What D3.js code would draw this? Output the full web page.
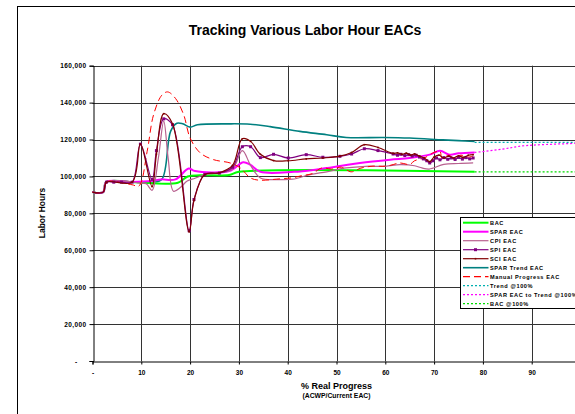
<!DOCTYPE html>
<html><head><meta charset="utf-8">
<script src="https://cdn.jsdelivr.net/npm/d3@7"></script>
<style>html,body{margin:0;padding:0;background:#fff;overflow:hidden}svg{display:block;font-family:"Liberation Sans",Arial,sans-serif}</style>
</head><body>
<svg id="c" width="575" height="414"></svg>
<script>
// ---- data ----
const title = "Tracking Various Labor Hour EACs";
const xTicks = [0,10,20,30,40,50,60,70,80,90,100];
const yTicks = [0,20000,40000,60000,80000,100000,120000,140000,160000];
const startSeg = [[0,91500],[2.2,91500],[2.8,97000],[4.4,97000],[5.9,97000],[8.1,97000]];
const bac = [[0,91500],[2.2,91500],[2.8,97000],[8.1,97000],[10,96600],[17.5,96600],[19.5,100000],[22,100600],[28,100800],[30,102500],[78.3,102500]];
const sparEac = [[0,91500],[2.2,91500],[2.8,97000],[8.1,97000],[12,97500],[14,98400],[17,98400],[19.7,104300],[21,102900],[28,102900],[30.9,107700],[32.3,106400],[34.4,102500],[41.3,102500],[46,103800],[50.7,105600],[54.8,107300],[61,109100],[65,110000],[69.1,111800],[71.2,113900],[73.2,111800],[75,112500],[78.3,113000]];
const cpiEac = [[0,91500],[2.2,91500],[2.8,97000],[8.1,97000],[9.5,96500],[11,96000],[12.2,92500],[13.5,110000],[14.6,130000],[15.5,110000],[16.6,92000],[18,94000],[19.4,97500],[21,99000],[23,101000],[26,102000],[28.7,104000],[30.7,114000],[32.4,106000],[34.4,99200],[38.4,98300],[41,98500],[44.6,101000],[48,102500],[52,104600],[56,105500],[60,105500],[63,106400],[66,105800],[67.5,104600],[69,104000],[72,106500],[75,107000],[78,107300]];
const spiEac = [[0,91500],[2.2,91500],[2.86,96900],[4.36,96900],[5.93,96900],[8.11,96900],[9.82,117500],[12.2,98400],[13.1,114000],[14.6,131200],[16.4,128000],[19.8,70600],[20.8,87500],[23,101100],[26,101800],[28.7,105000],[30.7,116100],[32.4,116100],[34.4,110200],[37.1,112000],[40.1,110000],[43.8,111800],[47.2,110400],[50.7,110900],[53.1,112150],[55.7,115000],[58.5,114000],[61.6,112150],[62.5,111500],[63.2,112000],[64,111300],[64.8,111800],[65.5,111000],[66.3,111500],[67,110500],[67.8,109500],[68.5,108500],[69.1,107300],[69.8,108500],[70.5,110000],[71.2,109000],[72,110200],[72.8,109300],[73.5,110000],[74.3,109200],[75,110300],[75.8,109400],[76.5,110200],[77.3,109500],[78,110000]];
const sciEac = [[0,91500],[2.2,91500],[2.86,96900],[8.11,96900],[9.82,117500],[12.2,94500],[13.1,112000],[14.6,134000],[16.4,128500],[19.8,70000],[20.8,87000],[23,101000],[26,102000],[28.7,106000],[30.7,120400],[32.4,119000],[34.4,112000],[37.1,108600],[40.1,108500],[43.8,109500],[47.2,110000],[50.7,111000],[53.1,113000],[55.7,117200],[58.5,115700],[61.6,112500],[62.5,112800],[63.4,112000],[64.3,112600],[65.2,111600],[66,112200],[67,111000],[68,110000],[69.1,108000],[70,110500],[71,111500],[72,110000],[73,111000],[74,110000],[75,111200],[76,110300],[77,111500],[78,111800]];
const sparTrend = [[0,91500],[2.2,91500],[2.8,97000],[8.1,97000],[12,97000],[14.2,98400],[16,124400],[17.3,128800],[18.5,128500],[20,126700],[21.5,128000],[28.2,128500],[32.3,128300],[36.4,127000],[42.5,124400],[48,122600],[52,121100],[59.6,121100],[65,120800],[71.8,119800],[75,119400],[78.3,118900]];
const manualEac = [[0,91500],[2.2,91500],[2.8,97000],[8.1,95500],[9.5,94800],[11.2,113600],[12.5,133300],[14.2,144000],[15.4,145800],[17,142300],[18.7,133300],[20,120800],[22.1,112700],[24.8,109100],[28.2,107300],[30.3,104600],[32.3,99300],[34,98000],[38.4,98700],[41,99300],[43,100500],[45,101500],[47,104600],[49,104000],[51,105000],[53,102500],[55,104500],[57.5,105600],[59.5,105500],[61,106000],[63,107300],[65,106500],[66,108500],[68,110000],[70,113000],[71.2,113600],[71.6,110000],[73,111500],[74,110000],[75.5,111500],[77,110500],[78,111000]];
const trend100 = [[78.3,118500],[100,118500]];
const sparToTrend100 = [[78.3,113000],[84,114800],[88,116500],[92,117200],[100,118000]];
const bac100 = [[78.3,102500],[100,102500]];
const legendLabels = ["BAC","SPAR EAC","CPI EAC","SPI EAC","SCI EAC","SPAR Trend EAC","Manual Progress EAC","Trend @100%","SPAR EAC to Trend @100%","BAC @100%"];

// ---- styles ----
const series = [
  {d:bac, c:"#00ff00", w:2},
  {d:sparEac, c:"#ff00ff", w:2},
  {d:cpiEac, c:"#b8608f", w:1.2},
  {d:spiEac, c:"#800080", w:1.2, m:3},
  {d:sciEac, c:"#800000", w:1.2, m:1.6},
  {d:sparTrend, c:"#008080", w:1.6},
  {d:manualEac, c:"#ff0000", w:1, dash:"7,4"},
  {d:trend100, c:"#00b0b0", w:1.2, dash:"2,2", straight:true},
  {d:sparToTrend100, c:"#ff00ff", w:1.2, dash:"2,2"},
  {d:bac100, c:"#00dd00", w:1.2, dash:"2,2", straight:true}
];
const drawOrder = [5,0,1,2,6,3,4,7,8,9];

const svg = d3.select("#c");
const x = d3.scaleLinear().domain([0,100]).range([92.5,580.5]);
const y = d3.scaleLinear().domain([0,160000]).range([361,65.7]);

// outer frame
svg.append("rect").attr("x",17.5).attr("y",6.5).attr("width",600).attr("height",500)
  .attr("fill","none").attr("stroke","#000").attr("stroke-width",1);

// title
svg.append("text").attr("x",305).attr("y",35).attr("text-anchor","middle")
  .attr("font-size",14).attr("font-weight","bold").text(title);

// grid
const g = svg.append("g");
g.selectAll(".vg").data(xTicks.slice(1)).join("line")
  .attr("x1",d=>Math.round(x(d))+0.5).attr("x2",d=>Math.round(x(d))+0.5)
  .attr("y1",y(160000)).attr("y2",y(0)).attr("stroke","#333").attr("stroke-width",1);
g.selectAll(".hg").data(yTicks.slice(1)).join("line")
  .attr("x1",x(0)).attr("x2",x(100))
  .attr("y1",d=>Math.round(y(d))+0.5).attr("y2",d=>Math.round(y(d))+0.5)
  .attr("stroke","#333").attr("stroke-width",1);

// axes
const yAxis = d3.axisLeft(y).tickValues(yTicks).tickSize(4).tickPadding(3)
  .tickFormat(d=>d===0?"-":d3.format(",")(d));
const ya = svg.append("g").attr("transform",`translate(${Math.round(x(0))+0.5},0)`).call(yAxis);
ya.select(".domain").attr("stroke","#000");
ya.selectAll("text").attr("font-size",6.5).attr("font-weight","bold").attr("letter-spacing","0.4px")
  .attr("font-family","'Liberation Sans',Arial,sans-serif").attr("fill","#000");
ya.selectAll(".tick").filter(d=>d===0).select("text").attr("dx",-9);

const xAxis = d3.axisBottom(x).tickValues(xTicks).tickSize(3).tickPadding(6)
  .tickFormat(d=>d===0?"-":d);
const xa = svg.append("g").attr("transform",`translate(0,${Math.round(y(0))+0.5})`).call(xAxis);
xa.select(".domain").attr("stroke","#000");
xa.selectAll("text").attr("font-size",6.5).attr("font-weight","bold")
  .attr("font-family","'Liberation Sans',Arial,sans-serif").attr("fill","#000");

// axis titles
const pc = (x(0)+x(100))/2;
svg.append("text").attr("x",pc).attr("y",389).attr("text-anchor","middle")
  .attr("font-size",9).attr("font-weight","bold").text("% Real Progress");
svg.append("text").attr("x",pc).attr("y",398).attr("text-anchor","middle")
  .attr("font-size",6.8).attr("font-weight","bold").text("(ACWP/Current EAC)");
svg.append("text").attr("transform","translate(45,213) rotate(-90)").attr("text-anchor","middle")
  .attr("font-size",8.5).attr("font-weight","bold").text("Labor Hours");

// lines
const smooth = d3.line().x(d=>x(d[0])).y(d=>y(d[1])).curve(d3.curveCatmullRom.alpha(0.5));
const straight = d3.line().x(d=>x(d[0])).y(d=>y(d[1]));
const lg = svg.append("g");
drawOrder.forEach(i=>{
  const s = series[i];
  lg.append("path").attr("d",(s.straight?straight:smooth)(s.d)).attr("fill","none")
    .attr("stroke",s.c).attr("stroke-width",s.w).attr("stroke-dasharray",s.dash||null)
    .attr("stroke-linejoin","round");
  if (s.m) {
    lg.selectAll(null).data(s.d.slice(2)).join("rect")
      .attr("x",d=>x(d[0])-s.m/2).attr("y",d=>y(d[1])-s.m/2)
      .attr("width",s.m).attr("height",s.m).attr("fill",s.c);
  }
});

// legend
const L = svg.append("g");
L.append("rect").attr("x",460.5).attr("y",217.5).attr("width",130).attr("height",91)
  .attr("fill","#fff").attr("stroke","#000").attr("stroke-width",1);
legendLabels.forEach((t,i)=>{
  const s = series[i];
  const yy = 222.7 + i*9.0;
  L.append("line").attr("x1",463).attr("x2",488.5).attr("y1",yy).attr("y2",yy)
    .attr("stroke",s.c).attr("stroke-width",Math.max(1.2,s.w)).attr("stroke-dasharray",s.dash||null);
  if (s.m) L.append("rect").attr("x",475.5-s.m/2).attr("y",yy-s.m/2).attr("width",s.m).attr("height",s.m).attr("fill",s.c);
  L.append("text").attr("x",490).attr("y",yy+2).attr("font-size",5.6).attr("font-weight","bold")
    .attr("letter-spacing","0.6px").text(t);
});
</script>
</body></html>
